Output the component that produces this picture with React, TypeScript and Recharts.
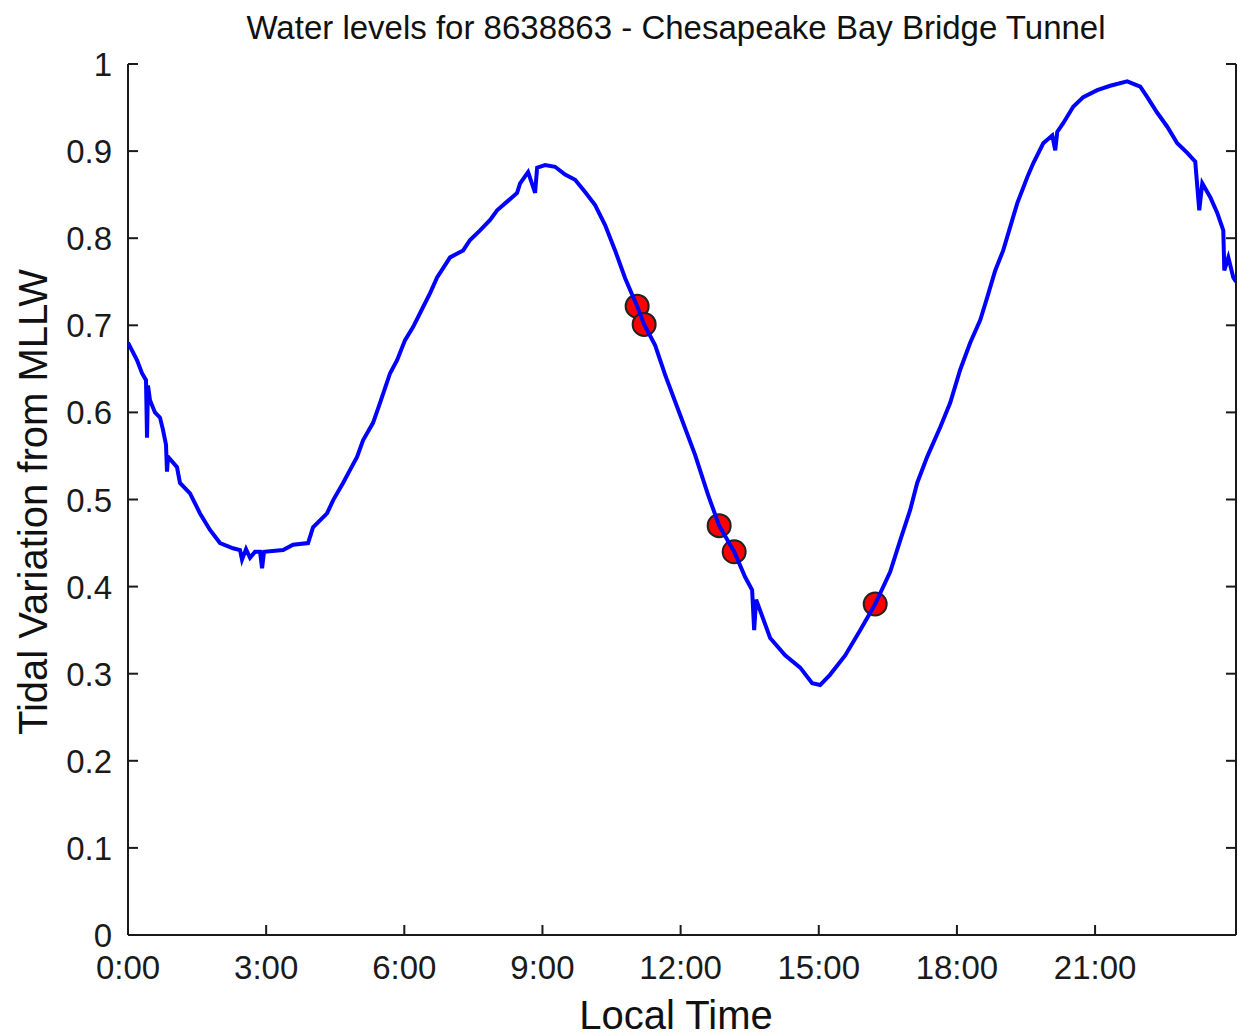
import React from "react";
import {
  ComposedChart,
  Line,
  Scatter,
  XAxis,
  YAxis,
} from "recharts";

// Water level record (hours since midnight, metres above MLLW)
const hours = [
  0.0, 0.195, 0.304, 0.391, 0.413, 0.434, 0.478, 0.586, 0.695, 0.76,
  0.825, 0.847, 0.869, 1.064, 1.129, 1.347, 1.564, 1.781, 1.998, 2.281,
  2.433, 2.476, 2.563, 2.65, 2.758, 2.867, 2.911, 2.954, 3.367, 3.584,
  3.91, 4.018, 4.322, 4.453, 4.67, 4.822, 4.974, 5.104, 5.321, 5.473,
  5.691, 5.843, 6.016, 6.19, 6.408, 6.56, 6.712, 6.994, 7.277, 7.428,
  7.645, 7.863, 8.015, 8.232, 8.449, 8.514, 8.688, 8.84, 8.884, 9.057,
  9.274, 9.492, 9.709, 9.926, 10.143, 10.36, 10.577, 10.795, 11.056, 11.208,
  11.447, 11.664, 11.99, 12.316, 12.598, 12.837, 13.163, 13.401, 13.553, 13.597,
  13.64, 13.944, 14.27, 14.596, 14.857, 15.03, 15.247, 15.573, 15.899, 16.225,
  16.551, 16.768, 16.985, 17.137, 17.354, 17.637, 17.854, 18.071, 18.288, 18.506,
  18.658, 18.832, 19.005, 19.157, 19.309, 19.527, 19.657, 19.874, 20.07, 20.135,
  20.178, 20.308, 20.525, 20.743, 21.047, 21.329, 21.698, 21.981, 22.133, 22.35,
  22.567, 22.784, 23.002, 23.175, 23.262, 23.328, 23.501, 23.653, 23.784, 23.806,
  23.893, 24.001, 24.06,
];

const levels = [
  0.68, 0.66, 0.645, 0.637, 0.571, 0.631, 0.614, 0.6, 0.594, 0.58,
  0.563, 0.532, 0.549, 0.537, 0.519, 0.507, 0.484, 0.465, 0.45, 0.444,
  0.442, 0.431, 0.443, 0.433, 0.44, 0.44, 0.421, 0.44, 0.442, 0.448,
  0.45, 0.468, 0.484, 0.499, 0.519, 0.534, 0.549, 0.568, 0.588, 0.611,
  0.645, 0.66, 0.683, 0.698, 0.721, 0.737, 0.755, 0.778, 0.786, 0.798,
  0.809, 0.821, 0.832, 0.842, 0.852, 0.863, 0.876, 0.852, 0.881, 0.884,
  0.882, 0.873, 0.867, 0.853, 0.838, 0.815, 0.786, 0.754, 0.722, 0.701,
  0.677, 0.643, 0.597, 0.551, 0.505, 0.47, 0.44, 0.411, 0.396, 0.35,
  0.385, 0.341, 0.321, 0.307, 0.289, 0.287, 0.299, 0.321, 0.35, 0.38,
  0.417, 0.453, 0.488, 0.519, 0.549, 0.583, 0.611, 0.649, 0.68, 0.706,
  0.732, 0.763, 0.786, 0.813, 0.84, 0.87, 0.886, 0.909, 0.918, 0.901,
  0.922, 0.932, 0.951, 0.962, 0.97, 0.975, 0.98, 0.974, 0.962, 0.944,
  0.928, 0.909, 0.898, 0.888, 0.832, 0.863, 0.847, 0.829, 0.809, 0.763,
  0.778, 0.755, 0.75,
];

// Observation times marked on the curve
const sampleHours = [11.056, 11.208, 12.837, 13.163, 16.225];
const sampleLevels = [0.722, 0.701, 0.47, 0.44, 0.38];

const timeTicks = [0, 3, 6, 9, 12, 15, 18, 21];
const levelTicks = [0, 0.1, 0.2, 0.3, 0.4, 0.5, 0.6, 0.7, 0.8, 0.9, 1];

const lineData = hours.map((t, i) => ({ t, v: levels[i] }));
const sampleData = sampleHours.map((t, i) => ({ t, v: sampleLevels[i] }));

const FONT = "Arial, 'Liberation Sans', Helvetica, sans-serif";
const TICK_LEN = 10;
const INK = "#1a1a1a";

const fmtLevel = (v: number) => (v === 0 || v === 1 ? String(v) : v.toFixed(1));

const BottomTick = (props: any) => {
  const { x, y, payload } = props;
  return (
    <g>
      <line x1={x} y1={y} x2={x} y2={y - TICK_LEN} stroke={INK} strokeWidth={2} />
      <text x={x} y={y + 44} textAnchor="middle" fontSize={33} fontFamily={FONT} fill={INK}>
        {`${payload.value}:00`}
      </text>
    </g>
  );
};

const TopTick = (props: any) => {
  const { x, y } = props;
  return <line x1={x} y1={y} x2={x} y2={y + TICK_LEN} stroke={INK} strokeWidth={2} />;
};

const LeftTick = (props: any) => {
  const { x, y, payload } = props;
  return (
    <g>
      <line x1={x} y1={y} x2={x + TICK_LEN} y2={y} stroke={INK} strokeWidth={2} />
      <text x={x - 16} y={y + 12} textAnchor="end" fontSize={33} fontFamily={FONT} fill={INK}>
        {fmtLevel(payload.value)}
      </text>
    </g>
  );
};

const RightTick = (props: any) => {
  const { x, y } = props;
  return <line x1={x} y1={y} x2={x - TICK_LEN} y2={y} stroke={INK} strokeWidth={2} />;
};

const SampleDot = (props: any) => (
  <circle cx={props.cx} cy={props.cy} r={11.5} fill="#ff0000" stroke="#222" strokeWidth={2} />
);

export default function App() {
  return (
    <div style={{ position: "absolute", left: 0, top: 0, width: 1238, height: 1036, background: "#fff" }}>
      <div
        style={{
          position: "absolute",
          left: 676,
          top: 8,
          transform: "translateX(-50%)",
          whiteSpace: "nowrap",
          fontFamily: FONT,
          fontSize: 33,
          lineHeight: "40px",
          color: "#111",
        }}
      >
        Water levels for 8638863 - Chesapeake Bay Bridge Tunnel
      </div>
      <ComposedChart
        width={1238}
        height={1036}
        margin={{ top: 64, right: 0, bottom: 0, left: 0 }}
      >
        <XAxis
          dataKey="t"
          type="number"
          domain={[0, 24.06]}
          ticks={timeTicks}
          interval={0}
          allowDataOverflow
          height={101}
          tickSize={0}
          tickMargin={0}
          tick={BottomTick}
          axisLine={{ stroke: INK, strokeWidth: 2 }}
        />
        <XAxis
          xAxisId="top"
          orientation="top"
          dataKey="t"
          type="number"
          domain={[0, 24.06]}
          ticks={timeTicks}
          interval={0}
          allowDataOverflow
          height={0}
          tickSize={0}
          tickMargin={0}
          tick={TopTick}
          axisLine={{ stroke: INK, strokeWidth: 2 }}
        />
        <YAxis
          type="number"
          domain={[0, 1]}
          ticks={levelTicks}
          interval={0}
          allowDataOverflow
          width={128}
          tickSize={0}
          tickMargin={0}
          tick={LeftTick}
          axisLine={{ stroke: INK, strokeWidth: 2 }}
        />
        <YAxis
          yAxisId="right"
          orientation="right"
          type="number"
          domain={[0, 1]}
          ticks={levelTicks}
          interval={0}
          allowDataOverflow
          width={2}
          tickSize={0}
          tickMargin={0}
          tick={RightTick}
          axisLine={{ stroke: INK, strokeWidth: 2 }}
        />
        {/* markers go below the trace, so the blue line crosses them */}
        <Scatter
          data={sampleData}
          dataKey="v"
          shape={SampleDot}
          zIndex={300}
          isAnimationActive={false}
        />
        <Line
          data={lineData}
          dataKey="v"
          type="linear"
          stroke="#0000ff"
          strokeWidth={4}
          dot={false}
          activeDot={false}
          zIndex={700}
          isAnimationActive={false}
        />
      </ComposedChart>
      <div
        style={{
          position: "absolute",
          left: 676,
          top: 992,
          transform: "translateX(-50%)",
          whiteSpace: "nowrap",
          fontFamily: FONT,
          fontSize: 40,
          lineHeight: "46px",
          color: "#111",
        }}
      >
        Local Time
      </div>
      <div
        style={{
          position: "absolute",
          left: 33,
          top: 502,
          transform: "translate(-50%, -50%) rotate(-90deg)",
          whiteSpace: "nowrap",
          fontFamily: FONT,
          fontSize: 40,
          lineHeight: "46px",
          color: "#111",
        }}
      >
        Tidal Variation from MLLW
      </div>
    </div>
  );
}
